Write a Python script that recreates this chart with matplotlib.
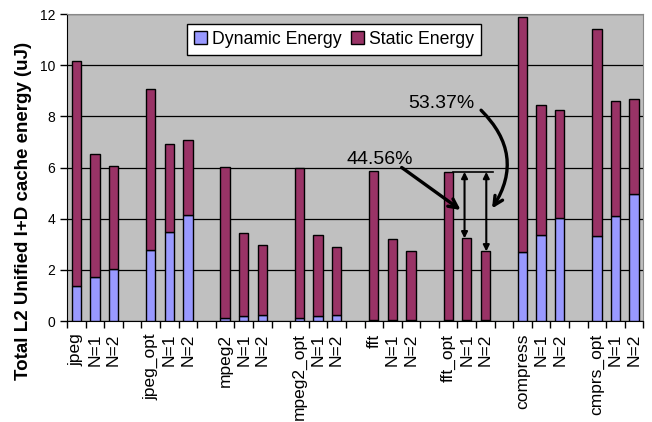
import matplotlib
matplotlib.use("Agg")
import matplotlib.pyplot as plt
import numpy as np

plt.rcParams['font.family'] = ['Liberation Sans', 'DejaVu Sans']

# benchmark groups, each with base, N=1 and N=2 configurations
groups = ["jpeg", "jpeg_opt", "mpeg2", "mpeg2_opt", "fft", "fft_opt", "compress", "cmprs_opt"]
configs = ["", "N=1", "N=2"]

# energy in uJ, listed group by group (base, N=1, N=2)
dynamic = [1.37, 1.71, 2.04,
           2.77, 3.48, 4.15,
           0.13, 0.18, 0.22,
           0.13, 0.18, 0.22,
           0.03, 0.03, 0.03,
           0.03, 0.03, 0.03,
           2.68, 3.37, 4.01,
           3.32, 4.10, 4.96]
static = [8.78, 4.81, 4.03,
          6.30, 3.43, 2.91,
          5.89, 3.25, 2.74,
          5.85, 3.20, 2.66,
          5.84, 3.19, 2.70,
          5.80, 3.20, 2.69,
          9.19, 5.07, 4.23,
          8.10, 4.49, 3.71]

# reductions of fft_opt total energy for N=1 and N=2
pct_n1 = "44.56%"
pct_n2 = "53.37%"

labels = []
positions = []
for g, name in enumerate(groups):
    for k, c in enumerate(configs):
        labels.append(name if c == "" else c)
        positions.append(g * 4 + k)
positions = np.array(positions, dtype=float)
dynamic = np.array(dynamic)
static = np.array(static)
total = dynamic + static

dyn_color = "#9999FF"
sta_color = "#993366"

fig = plt.figure(figsize=(6.52, 4.22), dpi=100)
ax = fig.add_axes([0.1028, 0.2393, 0.8840, 0.7275])
ax.set_facecolor("#C0C0C0")

w = 0.5
ax.bar(positions, dynamic, width=w, color=dyn_color, edgecolor="black",
       linewidth=1.0, label="Dynamic Energy", zorder=3)
ax.bar(positions, static, width=w, bottom=dynamic, color=sta_color,
       edgecolor="black", linewidth=1.0, label="Static Energy", zorder=3)

ax.set_xlim(-0.5, 30.5)
ax.set_ylim(0, 12)
ax.set_yticks(np.arange(0, 13, 2))
ax.yaxis.grid(True, color="black", linewidth=0.9, zorder=1)
ax.set_axisbelow(True)

# ticks sit on slot boundaries, labels sit under each bar
ax.set_xticks(np.arange(-0.5, 31.0, 1.0))
ax.set_xticklabels([])
ax.set_xticks(positions, minor=True)
ax.set_xticklabels(labels, minor=True, rotation=90, ha="center", va="top",
                   fontsize=12.5)
ax.tick_params(axis="x", which="minor", length=0, pad=9)
ax.tick_params(axis="x", which="major", length=5, direction="out", width=1)
ax.tick_params(axis="y", length=5, direction="out", labelsize=10, width=1)

for s in ["top", "right"]:
    ax.spines[s].set_color("#888888")
for s in ["left", "bottom"]:
    ax.spines[s].set_color("black")

ax.set_ylabel("Total L2 Unified I+D cache energy (uJ)", fontsize=13.5,
              fontweight="bold")
ax.yaxis.set_label_coords(-0.061, 0.358)

leg = ax.legend(loc="upper center", bbox_to_anchor=(0.463, 0.968), ncol=2,
                fontsize=12.7, frameon=True, fancybox=False, edgecolor="black",
                framealpha=1, handlelength=0.75, handleheight=0.75,
                handletextpad=0.3, columnspacing=0.5, borderpad=0.4,
                borderaxespad=0)
leg.get_frame().set_linewidth(1.0)

# annotation for the fft_opt reductions
i_opt = groups.index("fft_opt") * 3
top = total[i_opt]
x0 = positions[i_opt]
x1 = positions[i_opt + 1]
x2 = positions[i_opt + 2]
ax.plot([x0 + w / 2, x2 + 0.42], [top, top], color="black",
        linewidth=1.2, zorder=4)
for xa, yb in [(x1 - 0.12, total[i_opt + 1]), (x2 + 0.05, total[i_opt + 2])]:
    ax.annotate("", xy=(xa, top), xytext=(xa, yb),
                arrowprops=dict(arrowstyle="<|-|>", color="black", lw=1.5,
                                mutation_scale=9, shrinkA=0, shrinkB=0),
                zorder=5)

ax.text(16.32, 6.33, pct_n1, fontsize=14, ha="center", va="center", zorder=6)
ax.text(19.63, 8.50, pct_n2, fontsize=14, ha="center", va="center", zorder=6)

ax.annotate("", xy=(20.67, 4.34), xytext=(17.5, 6.0),
            arrowprops=dict(arrowstyle="->", color="black", lw=2.4,
                            mutation_scale=16, shrinkA=0, shrinkB=0),
            zorder=6)
ax.annotate("", xy=(22.36, 4.40), xytext=(21.77, 8.24),
            arrowprops=dict(arrowstyle="->", color="black", lw=2.4,
                            mutation_scale=16, shrinkA=0, shrinkB=0,
                            connectionstyle="arc3,rad=-0.4"),
            zorder=6)

fig.savefig("out.png", dpi=100)
